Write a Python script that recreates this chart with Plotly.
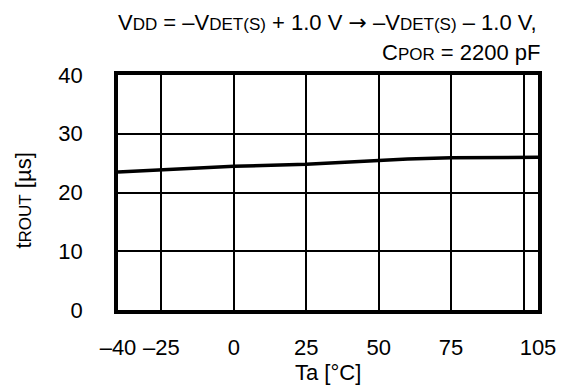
import plotly.graph_objects as go

# Data
temperature_c = [-40, -25, 0, 25, 50, 60, 75, 100, 105]
t_rout_us = [23.5, 23.8, 24.45, 24.8, 25.5, 25.7, 25.9, 26.1, 26.0]

x_tick_vals = [-40, -25, 0, 25, 50, 75, 105]
x_tick_text = ["\u201340", "\u201325", "0", "25", "50", "75", "105"]
x_extra_grid = [100]
y_tick_vals = [0, 10, 20, 30, 40]

FONT = "Liberation Sans, Arial, sans-serif"
BIG = 22
SUB = "<span style='font-size:17px'>{}</span>"
ARROW = "<span style='font-family:DejaVu Sans'>\u2192</span>"

fig = go.Figure()
fig.add_trace(go.Scatter(
    x=temperature_c, y=t_rout_us, mode="lines",
    line=dict(color="black", width=3.5), showlegend=False, hoverinfo="skip",
))

fig.update_layout(
    width=568, height=385,
    margin=dict(l=118, r=23, t=75, b=75),
    paper_bgcolor="white", plot_bgcolor="white",
    font=dict(family=FONT, size=BIG, color="black"),
    xaxis=dict(
        range=[-40, 105], tickvals=x_tick_vals, ticktext=x_tick_text,
        showgrid=True, gridcolor="black", gridwidth=1.5,
        minor=dict(tickvals=x_extra_grid, showgrid=True, gridcolor="black", gridwidth=1.5, ticks=""),
        showline=True, linecolor="black", linewidth=3.5, mirror=True,
        zeroline=False, ticks="", ticklabelstandoff=15,
    ),
    yaxis=dict(
        range=[0, 40], tickvals=y_tick_vals,
        showgrid=True, gridcolor="black", gridwidth=1.5,
        showline=True, linecolor="black", linewidth=3.5, mirror=True,
        zeroline=False, ticks="", ticklabelstandoff=27,
    ),
    annotations=[
        dict(
            text="V" + SUB.format("DD") + " = \u2013V" + SUB.format("DET(S)") + " + 1.0 V " + ARROW + " \u2013V"
                 + SUB.format("DET(S)") + " \u2013 1.0 V,",
            xref="paper", yref="paper", x=1, y=1.223, xanchor="right", yanchor="middle",
            xshift=1, showarrow=False,
        ),
        dict(
            text="C" + SUB.format("POR") + " = 2200 pF",
            xref="paper", yref="paper", x=1, y=1.096, xanchor="right", yanchor="middle",
            xshift=5, showarrow=False,
        ),
        dict(
            text="Ta [\u00b0C]",
            xref="paper", yref="paper", x=0.5, y=-0.268, xanchor="center", yanchor="middle",
            showarrow=False,
        ),
        dict(
            text="t" + SUB.format("ROUT") + " [\u00b5s]",
            xref="paper", yref="paper", x=-0.2248, y=0.464, xanchor="center", yanchor="middle",
            textangle=-90, showarrow=False,
        ),
    ],
)

fig.write_html("out.html", config={"displayModeBar": False},
               post_script="document.body.style.margin='0px';")
